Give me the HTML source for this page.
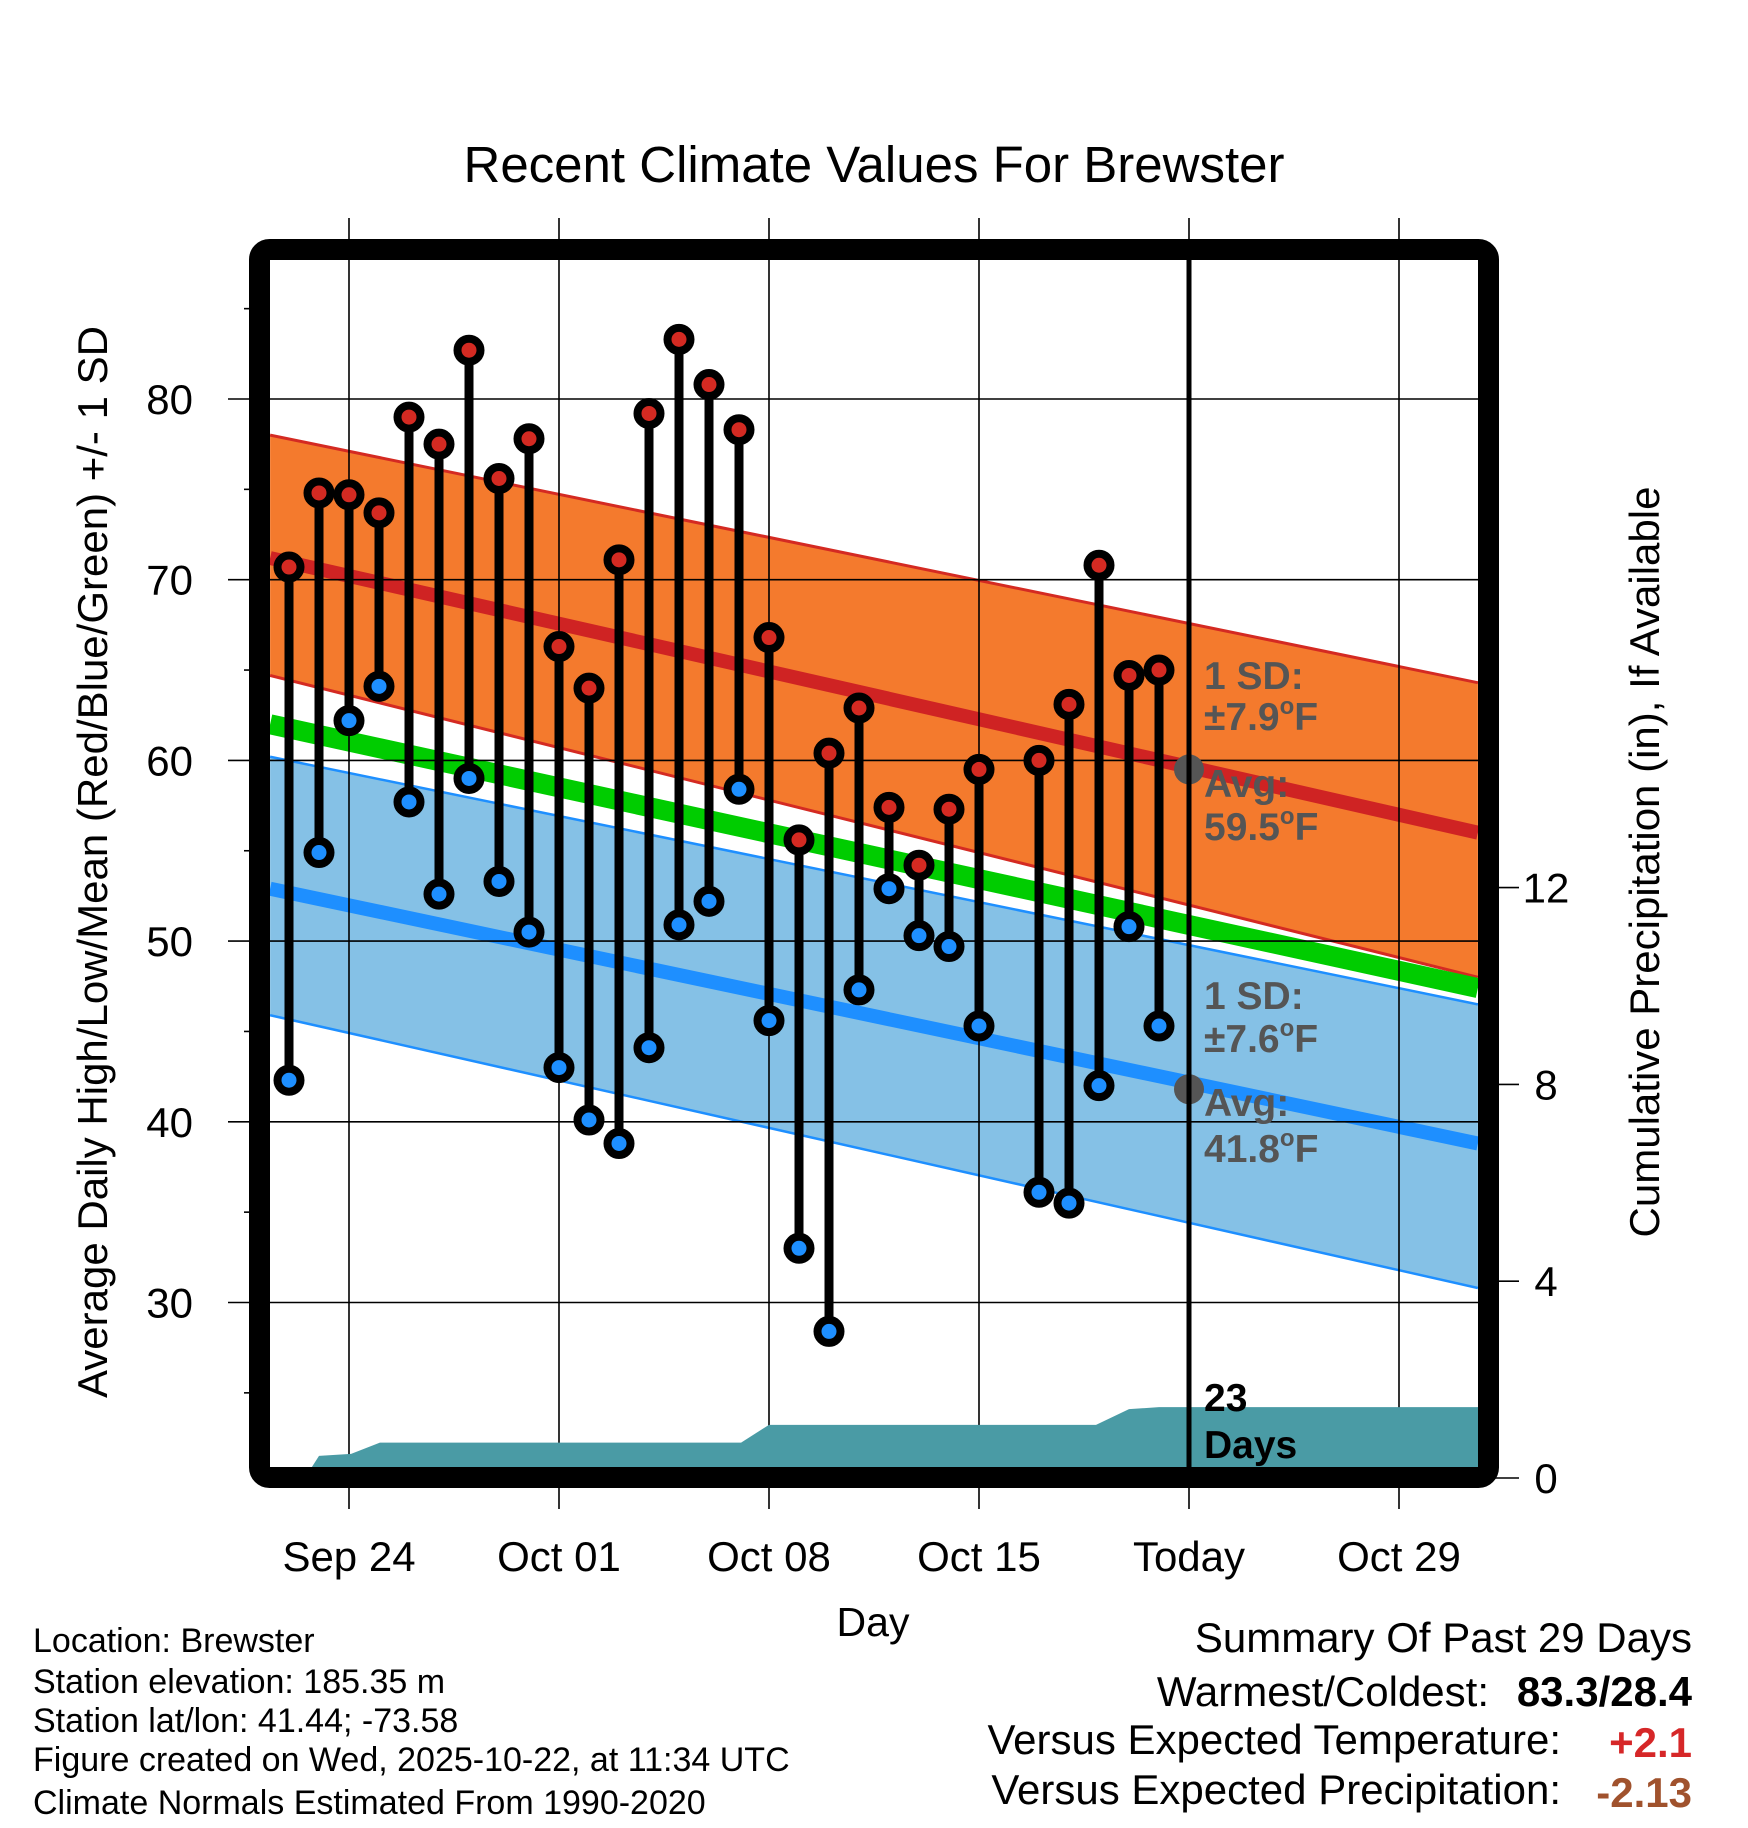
<!DOCTYPE html>
<html><head><meta charset="utf-8"><style>
html,body{margin:0;padding:0;background:#fff;}
svg{display:block;font-family:"Liberation Sans",sans-serif;}
</style></head><body>
<svg id="chart" width="1748" height="1828" viewBox="0 0 1748 1828" xmlns="http://www.w3.org/2000/svg">
<defs><clipPath id="plotClip"><rect x="270" y="260" width="1208" height="1208"/></clipPath></defs>
<g id="bands" clip-path="url(#plotClip)"></g>
<g id="grid"></g>
<g id="precip" clip-path="url(#plotClip)"></g>
<g id="marks"></g>
<g id="labels"></g>
<rect x="259.5" y="249.5" width="1229" height="1228" rx="10" fill="none" stroke="#000" stroke-width="21"/>
<text x="874" y="182" font-size="51" text-anchor="middle">Recent Climate Values For Brewster</text>
<text transform="translate(107,862) rotate(-90)" font-size="42" text-anchor="middle">Average Daily High/Low/Mean (Red/Blue/Green) +/- 1 SD</text>
<text transform="translate(1659,862) rotate(-90)" font-size="42" text-anchor="middle">Cumulative Precipitation (in), If Available</text>
<text x="873" y="1636" font-size="41" text-anchor="middle">Day</text>
<g font-size="34">
<text x="33" y="1652">Location: Brewster</text>
<text x="33" y="1693">Station elevation: 185.35 m</text>
<text x="33" y="1732">Station lat/lon: 41.44; -73.58</text>
<text x="33" y="1771">Figure created on Wed, 2025-10-22, at 11:34 UTC</text>
<text x="33" y="1814">Climate Normals Estimated From 1990-2020</text>
</g>
<g font-size="42">
<text x="1692" y="1652" text-anchor="end">Summary Of Past 29 Days</text>
<text x="1489" y="1706" text-anchor="end">Warmest/Coldest:</text>
<text x="1692" y="1706" text-anchor="end" font-weight="bold">83.3/28.4</text>
<text x="1561" y="1754" text-anchor="end">Versus Expected Temperature:</text>
<text x="1692" y="1757" text-anchor="end" font-weight="bold" fill="#d62728">+2.1</text>
<text x="1561" y="1804" text-anchor="end">Versus Expected Precipitation:</text>
<text x="1692" y="1807" text-anchor="end" font-weight="bold" fill="#a0522d">-2.13</text>
</g>
</svg>
<script>
// ---- data ----
const obsDays = [0,1,2,3,4,5,6,7,8,9,10,11,12,13,14,15,16,17,18,19,20,21,22,23,25,26,27,28,29];
const highs = [70.7,74.8,74.7,73.7,79.0,77.5,82.7,75.6,77.8,66.3,64.0,71.1,79.2,83.3,80.8,78.3,66.8,55.6,60.4,62.9,57.4,54.2,57.3,59.5,60.0,63.1,70.8,64.7,65.0];
const lows = [42.3,54.9,62.2,64.1,57.7,52.6,59.0,53.3,50.5,43.0,40.1,38.8,44.1,50.9,52.2,58.4,45.6,33.0,28.4,47.3,52.9,50.3,49.7,45.3,36.1,35.5,42.0,50.8,45.3];
const normDays = [-0.63, 39.63];
const normHigh = [71.2, 56.0];
const normHighUpper = [78.0, 64.3];
const normHighLower = [64.7, 48.0];
const normLow = [52.9, 38.8];
const normLowUpper = [60.2, 46.5];
const normLowLower = [45.9, 30.8];
const normMean = [62.0, 47.4];
const precipDays = [0.53, 1.0, 2.07, 3.03, 15.07, 16.0, 26.9, 28.0, 29.0, 39.7];
const precipVals = [0, 0.45, 0.49, 0.72, 0.72, 1.08, 1.08, 1.40, 1.44, 1.44];
const xTickDays = [2, 9, 16, 23, 30, 37];
const xTickLabels = ["Sep 24","Oct 01","Oct 08","Oct 15","Today","Oct 29"];
const yTicks = [30,40,50,60,70,80];
const yMinorTicks = [25,35,45,55,65,75,85];
const y2Ticks = [0,4,8,12];
const todayDay = 30;
const todayHighAvg = 59.5, todayLowAvg = 41.8;

// ---- scales ----
const X = d => 289 + 30*d;
const Y = t => 399 + (80 - t)*18.07;
const Y2 = p => 1478 - p*49.2;
const NS='http://www.w3.org/2000/svg';
function mk(tag, attrs, parent){const e=document.createElementNS(NS,tag);for(const k in attrs)e.setAttribute(k,attrs[k]);parent.appendChild(e);return e;}
const bands=document.getElementById('bands'),grid=document.getElementById('grid'),precip=document.getElementById('precip'),marks=document.getElementById('marks'),labels=document.getElementById('labels');

function band(up, lo, fill, edge, ew, name){
  const pts = normDays.map((d,i)=>X(d)+','+Y(up[i])).concat(normDays.slice().reverse().map((d,j)=>{const i=normDays.length-1-j;return X(d)+','+Y(lo[i]);}));
  const p = mk('polygon',{points:pts.join(' '),fill:fill},bands);
  
  
  [up,lo].forEach(arr=>{
    const l = mk('polyline',{points:normDays.map((d,i)=>X(d)+','+Y(arr[i])).join(' '),fill:'none',stroke:edge,'stroke-width':ew},bands);
    
    
  });
}
function nline(arr, col, w, name){
  const l = mk('polyline',{points:normDays.map((d,i)=>X(d)+','+Y(arr[i])).join(' '),fill:'none',stroke:col,'stroke-width':w},bands);
  
  
}
band(normHighUpper, normHighLower, '#f47a2d', '#d42a22', 3, 'high-sd-band');
nline(normHigh, '#cf2323', 14, 'avg-high-line');
band(normLowUpper, normLowLower, '#85c1e6', '#1e8fff', 2.5, 'low-sd-band');
nline(normLow, '#1e8fff', 14, 'avg-low-line');
nline(normMean, '#00cc00', 20, 'avg-mean-line');

// grid
xTickDays.forEach((d,i)=>{
  const l = mk('line',{x1:X(d),x2:X(d),y1:218,y2:1509,stroke:'#000','stroke-width':1.6},grid);
  
  
  const t = mk('text',{x:X(d),y:1571,'font-size':42,'text-anchor':'middle'},labels);
  t.textContent = xTickLabels[i];
  
  
});
yTicks.forEach(v=>{
  const l = mk('line',{x1:228,x2:1478,y1:Y(v),y2:Y(v),stroke:'#000','stroke-width':1.6},grid);
  
  
  const t = mk('text',{x:193,y:Y(v)+15,'font-size':42,'text-anchor':'end'},labels);
  t.textContent = v;
  
  
});
yMinorTicks.forEach(v=>{
  const l = mk('line',{x1:244,x2:252,y1:Y(v),y2:Y(v),stroke:'#000','stroke-width':1.6},grid);
  
  
});
y2Ticks.forEach(v=>{
  const l = mk('line',{x1:1495,x2:1519,y1:Y2(v),y2:Y2(v),stroke:'#000','stroke-width':1.6},grid);
  
  
  const t = mk('text',{x:1546,y:Y2(v)+15,'font-size':42,'text-anchor':'middle'},labels);
  t.textContent = v;
  
  
});

// precip area
{
  let pts = precipDays.map((d,i)=>X(d)+','+Y2(precipVals[i]));
  pts.push(X(precipDays[precipDays.length-1])+','+Y2(0));
  pts.push(X(precipDays[0])+','+Y2(0));
  const p = mk('polygon',{points:pts.join(' '),fill:'#4a9ba5'},precip);
  
  
}

// stems and markers
obsDays.forEach((d,i)=>{
  const s = mk('line',{x1:X(d),x2:X(d),y1:Y(highs[i]),y2:Y(lows[i]),stroke:'#000','stroke-width':9},marks);
  
  
});
obsDays.forEach((d,i)=>{
  const h = mk('circle',{cx:X(d),cy:Y(highs[i]),r:11.5,fill:'#d42a22',stroke:'#000','stroke-width':8},marks);
  
  
  const l = mk('circle',{cx:X(d),cy:Y(lows[i]),r:11.5,fill:'#1e8fff',stroke:'#000','stroke-width':8},marks);
  
  
});
// today dots and line
[todayHighAvg, todayLowAvg].forEach(v=>{
  const c = mk('circle',{cx:X(todayDay),cy:Y(v),r:15,fill:'#555'},marks);
  
  
});
{
  const t = mk('line',{x1:X(todayDay),x2:X(todayDay),y1:250,y2:1478,stroke:'#000','stroke-width':5},marks);
  
  
}
// annotations
function ann(lines, y0, name, col, fs){
  lines.forEach((s,i)=>{
    const t = mk('text',{x:1204,y:y0[i],'font-size':fs,'font-weight':'bold',fill:col},labels);
    t.innerHTML = s;
    
    
  });
}
const deg = '<tspan font-size="24" dy="-16">o</tspan><tspan dy="16">F</tspan>';
ann(['1 SD:','±7.9'+deg,'Avg:','59.5'+deg],[689,730,797,840],'high-normal-annotation','#555',39);
ann(['1 SD:','±7.6'+deg,'Avg:','41.8'+deg],[1009,1052,1116,1162],'low-normal-annotation','#555',39);
ann(['23','Days'],[1411,1458],'precip-days-label','#000',39);
</script>
</body></html>
